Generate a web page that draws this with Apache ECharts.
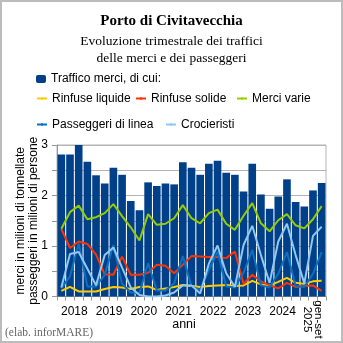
<!DOCTYPE html>
<html>
<head>
<meta charset="utf-8">
<script src="https://cdn.jsdelivr.net/npm/echarts@6/dist/echarts.min.js"></script>
<style>
html,body{margin:0;padding:0;background:#fff;}
#c{width:339px;height:339px;border:2px solid #bcbcbc;}
</style>
</head>
<body>
<div id="c"></div>
<script>
// quarters 2018 Q1 .. 2025 Q3
const quarters = ['2018-1','2018-2','2018-3','2018-4','2019-1','2019-2','2019-3','2019-4',
  '2020-1','2020-2','2020-3','2020-4','2021-1','2021-2','2021-3','2021-4',
  '2022-1','2022-2','2022-3','2022-4','2023-1','2023-2','2023-3','2023-4',
  '2024-1','2024-2','2024-3','2024-4','2025-1','2025-2','2025-3'];
const yearLabels = ['2018','2019','2020','2021','2022','2023','2024'];
const yearQuarterCounts = [4,4,4,4,4,4,4,3];
const lastYearLabel = 'gen-set\n2025';

const trafficoMerci = [2.81,2.81,3.00,2.67,2.40,2.24,2.55,2.41,1.89,1.71,2.26,2.19,2.24,2.22,2.66,2.55,
  2.41,2.63,2.69,2.45,2.41,2.08,2.63,2.02,1.74,1.98,2.32,1.87,1.78,2.10,2.25];
const rinfuseLiquide = [0.11,0.19,0.10,0.10,0.10,0.15,0.19,0.18,0.15,0.19,0.20,0.13,0.16,0.19,0.23,0.21,
  0.19,0.21,0.22,0.23,0.21,0.22,0.31,0.24,0.22,0.29,0.37,0.27,0.25,0.30,0.31];
const rinfuseSolide = [1.34,0.96,1.09,1.04,0.83,0.44,0.43,0.79,0.43,0.43,0.47,0.63,0.61,0.46,0.63,0.80,
  0.79,0.78,0.78,0.76,0.89,0.25,0.43,0.30,0.22,0.16,0.27,0.19,0.21,0.22,0.11];
const merciVarie = [1.34,1.67,1.80,1.53,1.57,1.65,1.83,1.59,1.37,1.11,1.63,1.42,1.44,1.55,1.81,1.55,
  1.45,1.65,1.72,1.44,1.32,1.60,1.85,1.45,1.29,1.51,1.63,1.41,1.35,1.53,1.79];
const passeggeriLinea = [0.16,0.40,1.05,0.20,0.20,0.43,1.02,0.25,0.08,0.07,0.66,0.12,0.12,0.26,0.80,0.20,
  0.13,0.52,0.89,0.20,0.18,0.47,0.92,0.22,0.18,0.45,0.88,0.21,0.19,0.45,0.88];
const crocieristi = [0.18,0.84,0.88,0.55,0.22,0.82,0.97,0.57,0.18,0.03,0.00,0.00,0.02,0.08,0.22,0.22,
  0.06,0.65,1.01,0.46,0.19,1.02,1.40,0.82,0.27,1.09,1.44,0.82,0.26,1.20,1.38];

const yearCenters = [];
let acc = 0;
yearQuarterCounts.forEach(n => { yearCenters.push(acc + n / 2); acc += n; });

const SANS = 'Liberation Sans';
const SERIF = 'Liberation Serif';
const gridCol = '#b4b4b4';

function legendAt(name, left, top, w, h) {
  return {
    data: [name], left: left, top: top, padding: 0, itemWidth: w, itemHeight: h,
    selectedMode: false,
    textStyle: {fontFamily: SANS, fontSize: 12, color: '#000'}
  };
}

const chart = echarts.init(document.getElementById('c'), null, {renderer: 'canvas'});
chart.setOption({
  animation: false,
  title: [
    {text: 'Porto di Civitavecchia', left: 'center', top: 10, padding: 0,
      textStyle: {fontFamily: SERIF, fontSize: 15, fontWeight: 'bold', color: '#000', lineHeight: 18}},
    {text: 'Evoluzione trimestrale dei traffici', left: 'center', top: 30.5, padding: 0,
      textStyle: {fontFamily: SERIF, fontSize: 13.5, fontWeight: 'normal', color: '#000', lineHeight: 17}},
    {text: 'delle merci e dei passeggeri', left: 'center', top: 47.5, padding: 0,
      textStyle: {fontFamily: SERIF, fontSize: 13.5, fontWeight: 'normal', color: '#000', lineHeight: 17}},
    {text: '(elab. inforMARE)', left: 3, top: 324, padding: 0,
      textStyle: {fontFamily: SERIF, fontSize: 11.5, fontWeight: 'normal', color: '#666', lineHeight: 14}}
  ],
  legend: [
    legendAt('Traffico merci, di cui:', 34, 71, 10, 8),
    legendAt('Rinfuse liquide', 34, 90.5, 10, 3),
    legendAt('Rinfuse solide', 133, 90.5, 10, 3),
    legendAt('Merci varie', 234, 90.5, 10, 3),
    legendAt('Passeggeri di linea', 34, 116.5, 10, 3),
    legendAt('Crocieristi', 163, 116.5, 10, 3)
  ],
  grid: {left: 55, right: 15, top: 143, bottom: 44.5, show: true, borderColor: gridCol, borderWidth: 1,
    containLabel: false, outerBoundsMode: 'none'},
  xAxis: [
    {
      type: 'category', data: quarters, boundaryGap: true,
      axisLine: {lineStyle: {color: '#999'}},
      axisTick: {show: true, interval: 0, length: 4, lineStyle: {color: '#999'}},
      axisLabel: {show: false},
      splitLine: {show: false},
      name: 'anni', nameLocation: 'middle', nameGap: 22, nameMoveOverlap: false,
      nameTextStyle: {fontFamily: SANS, fontSize: 12.5, color: '#000', padding: [0, 15, 0, 0]}
    },
    {
      type: 'value', min: 0, max: quarters.length, position: 'bottom',
      axisLine: {show: false}, axisTick: {show: false}, splitLine: {show: false},
      axisLabel: {
        show: true, margin: 9, customValues: yearCenters.slice(0, yearLabels.length),
        formatter: v => yearLabels[yearCenters.indexOf(v)] || '',
        fontFamily: SANS, fontSize: 12, color: '#000'
      }
    },
    {
      type: 'value', min: 0, max: quarters.length, position: 'bottom',
      axisLine: {show: false}, axisTick: {show: false}, splitLine: {show: false},
      axisLabel: {
        show: true, margin: 23, customValues: [yearCenters[yearCenters.length - 1]],
        formatter: () => lastYearLabel, rotate: -90, align: 'center', verticalAlign: 'middle',
        fontFamily: SANS, fontSize: 11.5, color: '#000', lineHeight: 11
      }
    }
  ],
  yAxis: {
    type: 'value', min: 0, max: 3, interval: 0.5,
    axisLine: {show: true, lineStyle: {color: '#999'}},
    axisTick: {show: true, length: 5, lineStyle: {color: '#999'}},
    splitLine: {show: true, lineStyle: {color: gridCol}},
    axisLabel: {margin: 9, fontFamily: SANS, fontSize: 12, color: '#000',
      formatter: v => (v % 1 === 0 ? String(v) : '')},
    name: 'merci in milioni di tonnellate\npasseggeri in milioni di persone',
    nameLocation: 'middle', nameGap: 16.5, nameRotate: 90, nameMoveOverlap: false,
    nameTextStyle: {fontFamily: SANS, fontSize: 12, color: '#000', lineHeight: 13.5, align: 'center'}
  },
  series: [
    {name: 'Traffico merci, di cui:', type: 'bar', data: trafficoMerci, barCategoryGap: '12%',
      itemStyle: {color: '#004088'}},
    {name: 'Rinfuse liquide', type: 'line', data: rinfuseLiquide, symbol: 'none',
      lineStyle: {width: 2, color: '#ffcc00'}, itemStyle: {color: '#ffcc00'}},
    {name: 'Rinfuse solide', type: 'line', data: rinfuseSolide, symbol: 'none',
      lineStyle: {width: 2, color: '#ff3300'}, itemStyle: {color: '#ff3300'}},
    {name: 'Merci varie', type: 'line', data: merciVarie, symbol: 'none',
      lineStyle: {width: 2, color: '#99cc00'}, itemStyle: {color: '#99cc00'}},
    {name: 'Passeggeri di linea', type: 'line', data: passeggeriLinea, symbol: 'none',
      lineStyle: {width: 2, color: '#0a70c2'}, itemStyle: {color: '#0a70c2'}},
    {name: 'Crocieristi', type: 'line', data: crocieristi, symbol: 'none',
      lineStyle: {width: 2, color: '#8fc8f2'}, itemStyle: {color: '#8fc8f2'}}
  ]
});
</script>
</body>
</html>
